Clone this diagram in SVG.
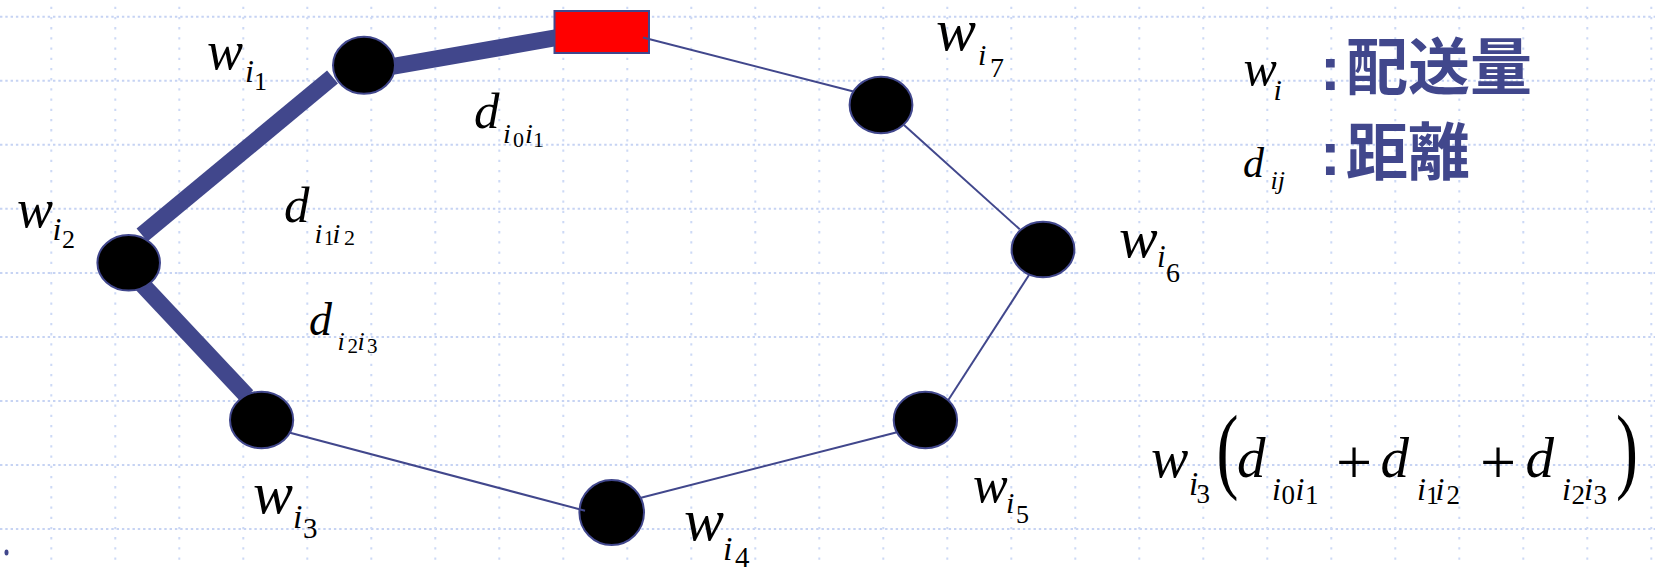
<svg xmlns="http://www.w3.org/2000/svg" width="1655" height="570" viewBox="0 0 1655 570">
<style>
.gh{stroke:#c6d3f3;stroke-width:2;stroke-dasharray:2.4 2.9;fill:none}
.gv{stroke:#cdd9f5;stroke-width:2;stroke-dasharray:2.3 7.9;fill:none}
.band{stroke:#41478c;stroke-width:17;stroke-linecap:butt;fill:none}
.thin{stroke:#41478c;stroke-width:2;fill:none}
.node{fill:#000;stroke:#41478c;stroke-width:2}
.depot{fill:#ff0000;stroke:#41478c;stroke-width:2}
.m{font-family:"Liberation Serif","Times New Roman",serif;font-style:italic;fill:#000}
.n{font-style:normal}
.cjk{font-family:"Noto Sans CJK JP","Noto Sans CJK SC",sans-serif;font-weight:bold;fill:#41478c;font-size:62px}
.col{font-family:"Liberation Sans",Arial,sans-serif;font-weight:bold;fill:#41478c;font-size:62px}
</style>
<rect width="1655" height="570" fill="#ffffff"/>
<g id="grid">
<path class="gh" d="M0 16.7H1655M0 80.7H1655M0 144.8H1655M0 208.8H1655M0 272.9H1655M0 336.9H1655M0 401H1655M0 465H1655M0 529H1655"/>
<path class="gv" d="M51.3 6.7V562M115.3 6.7V562M179.3 6.7V562M243.3 6.7V562M307.3 6.7V562M371.3 6.7V562M435.3 6.7V562M499.3 6.7V562M563.3 6.7V562M627.3 6.7V562M691.3 6.7V562M755.3 6.7V562M819.3 6.7V562M883.3 6.7V562M947.3 6.7V562M1011.3 6.7V562M1075.3 6.7V562M1139.3 6.7V562M1203.3 6.7V562M1267.3 6.7V562M1331.3 6.7V562M1395.3 6.7V562M1459.3 6.7V562M1523.3 6.7V562M1587.3 6.7V562M1651.3 6.7V562"/>
</g>
<g id="route-bold">
<line class="band" x1="560" y1="37" x2="392" y2="66.5"/>
<line class="band" x1="332.5" y1="77" x2="142" y2="235"/>
<line class="band" x1="138" y1="280" x2="247" y2="396"/>
</g>
<g id="n0"><rect class="depot" x="554.5" y="11" width="94.5" height="42"/></g>
<g id="n1"><ellipse class="node" cx="364" cy="65.3" rx="31" ry="28.5"/>
<text class="m"><tspan x="207" y="68.5" font-size="54">w</tspan><tspan x="245" y="82" font-size="32">i</tspan><tspan class="n" x="254" y="90" font-size="26">1</tspan></text></g>
<g id="n2"><ellipse class="node" cx="128.7" cy="262.8" rx="31.3" ry="27.8"/>
<text class="m"><tspan x="17" y="226.7" font-size="54">w</tspan><tspan x="52.5" y="240" font-size="32">i</tspan><tspan class="n" x="62" y="248.3" font-size="26">2</tspan></text></g>
<g id="n3"><ellipse class="node" cx="261.6" cy="420" rx="31.6" ry="28.3"/>
<text class="m"><tspan x="253" y="513.3" font-size="60">w</tspan><tspan x="293" y="528.3" font-size="34">i</tspan><tspan class="n" x="303" y="538.3" font-size="29">3</tspan></text></g>
<g id="n4"><ellipse class="node" cx="611.7" cy="512.5" rx="32.3" ry="32.5"/>
<text class="m"><tspan x="684" y="540" font-size="60">w</tspan><tspan x="723" y="560" font-size="34">i</tspan><tspan class="n" x="735" y="566.7" font-size="29">4</tspan></text></g>
<g id="n5"><ellipse class="node" cx="925.4" cy="420" rx="31.7" ry="28.3"/>
<text class="m"><tspan x="973" y="501.7" font-size="52">w</tspan><tspan x="1006" y="513.3" font-size="30">i</tspan><tspan class="n" x="1016" y="523.3" font-size="26">5</tspan></text></g>
<g id="n6"><ellipse class="node" cx="1043" cy="249.5" rx="31.4" ry="27.8"/>
<text class="m"><tspan x="1119" y="256.7" font-size="58">w</tspan><tspan x="1157" y="266.7" font-size="31">i</tspan><tspan class="n" x="1166" y="281.7" font-size="28">6</tspan></text></g>
<g id="n7"><ellipse class="node" cx="881" cy="105" rx="31.4" ry="28.3"/>
<text class="m"><tspan x="936" y="50" font-size="60">w</tspan><tspan x="978" y="65" font-size="30">i</tspan><tspan class="n" x="990" y="76.7" font-size="28">7</tspan></text></g>
<g id="connectors">
<line class="thin" x1="643" y1="37.5" x2="853.5" y2="91.5"/>
<line class="thin" x1="904" y1="125" x2="1019.7" y2="229.3"/>
<line class="thin" x1="1029" y1="275" x2="948" y2="400.5"/>
<line class="thin" x1="897" y1="432.2" x2="640" y2="498"/>
<line class="thin" x1="290" y1="432.7" x2="585" y2="510.7"/>
</g>
<g id="edge-labels">
<text class="m"><tspan x="474" y="128.3" font-size="51">d</tspan><tspan x="503" y="143.3" font-size="28">i</tspan><tspan class="n" x="513" y="146.7" font-size="22">0</tspan><tspan x="525" y="143.3" font-size="28">i</tspan><tspan class="n" x="533" y="146.7" font-size="22">1</tspan></text>
<text class="m"><tspan x="284" y="221.7" font-size="51">d</tspan><tspan x="314.5" y="243" font-size="28">i</tspan><tspan class="n" x="324" y="245" font-size="20">1</tspan><tspan x="332.5" y="243" font-size="28">i</tspan><tspan class="n" x="344" y="245" font-size="22">2</tspan></text>
<text class="m"><tspan x="309" y="335" font-size="46">d</tspan><tspan x="337.5" y="350" font-size="26">i</tspan><tspan class="n" x="347.5" y="353" font-size="21">2</tspan><tspan x="357.5" y="350" font-size="26">i</tspan><tspan class="n" x="367" y="353" font-size="21">3</tspan></text>
</g>
<g id="legend">
<text class="m"><tspan x="1243.5" y="85" font-size="50">w</tspan><tspan x="1273.5" y="100" font-size="30">i</tspan></text>
<text class="m"><tspan x="1243" y="176.7" font-size="42">d</tspan><tspan x="1270.5" y="189" font-size="26">ij</tspan></text>
<text class="col" x="1320" y="90">:</text>
<text class="col" x="1320" y="175">:</text>
<text class="cjk" x="1346" y="89.5">配送量</text>
<text class="cjk" x="1346" y="174.5">距離</text>
</g>
<g id="formula">
<text class="m"><tspan x="1151" y="476.7" font-size="56">w</tspan><tspan x="1189" y="495" font-size="33">i</tspan><tspan class="n" x="1196.5" y="503.3" font-size="27">3</tspan></text>
<text class="m n" transform="translate(1216.5 481) scale(1 1.45)" font-size="66">(</text>
<text class="m"><tspan x="1237" y="476.7" font-size="57">d</tspan><tspan x="1272" y="500" font-size="32">i</tspan><tspan class="n" x="1281.5" y="504" font-size="27">0</tspan><tspan x="1295.5" y="500" font-size="32">i</tspan><tspan class="n" x="1305" y="504" font-size="27">1</tspan></text>
<text class="m n" x="1336" y="483.5" font-size="64">+</text>
<text class="m"><tspan x="1380.5" y="476.7" font-size="57">d</tspan><tspan x="1417" y="500" font-size="32">i</tspan><tspan class="n" x="1426" y="504" font-size="26">1</tspan><tspan x="1435.5" y="500" font-size="32">i</tspan><tspan class="n" x="1446.5" y="504" font-size="27">2</tspan></text>
<text class="m n" x="1480" y="483.5" font-size="64">+</text>
<text class="m"><tspan x="1525.5" y="476.7" font-size="57">d</tspan><tspan x="1562" y="500" font-size="32">i</tspan><tspan class="n" x="1571.5" y="504" font-size="27">2</tspan><tspan x="1584" y="500" font-size="32">i</tspan><tspan class="n" x="1593.5" y="504" font-size="27">3</tspan></text>
<text class="m n" transform="translate(1616 481) scale(1 1.45)" font-size="66">)</text>
</g>
<ellipse cx="6.5" cy="552.5" rx="2" ry="3" fill="#41478c"/>
</svg>
